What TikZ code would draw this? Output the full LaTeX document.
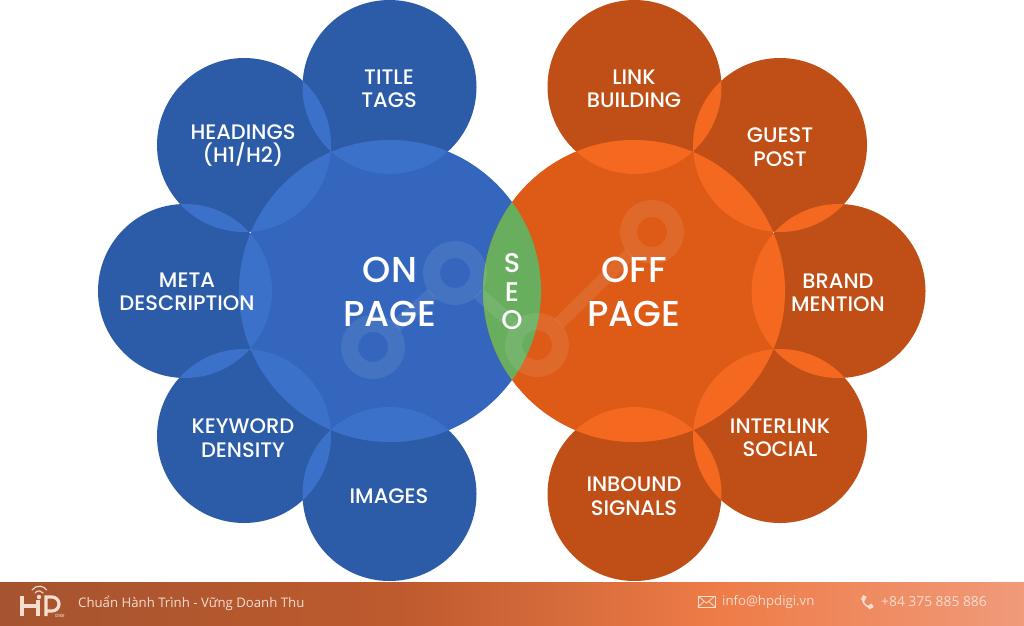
\documentclass[tikz,border=0pt]{standalone}
\usepackage{fontspec}
\setmainfont{Poppins Medium}
\newfontfamily\footfont{Open Sans}
\usetikzlibrary{calc}
\definecolor{bluesm}{HTML}{2C5CA8}
\definecolor{bluebig}{HTML}{3366BC}
\definecolor{bluelap}{HTML}{3C71CA}
\definecolor{orsm}{HTML}{BF4F16}
\definecolor{orbig}{HTML}{DD5A17}
\definecolor{orlap}{HTML}{F4681F}
\definecolor{seogreen}{HTML}{69AE5F}
\definecolor{barA}{HTML}{A5542F}
\definecolor{barB}{HTML}{BE5A2E}
\definecolor{barC}{HTML}{EE7C48}
\definecolor{barD}{HTML}{F09A7A}
\definecolor{foot}{HTML}{F6DDCF}
\tikzset{
  x=1pt,y=-1pt,
  lbl/.style={text=white,font=\fontsize{21}{23.5}\selectfont,align=center,inner sep=0pt},
  biglbl/.style={text=white,font=\fontsize{36}{44}\selectfont,align=center,inner sep=0pt},
  ftxt/.style={text=foot,font=\footfont\fontsize{13.2}{15}\selectfont,anchor=west,inner sep=0pt},
  ring/.style={draw=white,draw opacity=.085,line width=17pt,fill=none},
  link/.style={draw=white,draw opacity=.085,line width=13pt,shorten >=31pt,shorten <=31pt},
}
\newcommand{\smrad}{87}
\newcommand{\bigrad}{151}
\begin{document}
\begin{tikzpicture}
\useasboundingbox (0,0) rectangle (1024,625);
\fill[white] (0,0) rectangle (1024,625);
% small circles
\foreach \c in {(389.5,87),(244,145),(185,291),(244,436),(389.5,494)} \fill[bluesm] \c circle (\smrad);
\foreach \c in {(634.5,87),(780,145),(838.5,291),(780,436),(634.5,494)} \fill[orsm] \c circle (\smrad);
% overlaps of neighbouring small circles
\foreach \a/\b in {{(389.5,87)}/{(244,145)},{(244,145)}/{(185,291)},{(185,291)}/{(244,436)},{(244,436)}/{(389.5,494)}} {
  \begin{scope}\clip \a circle (\smrad); \fill[bluelap] \b circle (\smrad); \end{scope}}
\foreach \a/\b in {{(634.5,87)}/{(780,145)},{(780,145)}/{(838.5,291)},{(838.5,291)}/{(780,436)},{(780,436)}/{(634.5,494)}} {
  \begin{scope}\clip \a circle (\smrad); \fill[orlap] \b circle (\smrad); \end{scope}}
% big circles
\fill[bluebig] (390,291) circle (\bigrad);
\fill[orbig] (634,291) circle (\bigrad);
% overlaps
\foreach \c in {(389.5,87),(244,145),(185,291),(244,436),(389.5,494)} {
  \begin{scope}\clip (390,291) circle (\bigrad); \fill[bluelap] \c circle (\smrad); \end{scope}}
\foreach \c in {(634.5,87),(780,145),(838.5,291),(780,436),(634.5,494)} {
  \begin{scope}\clip (634,291) circle (\bigrad); \fill[orlap] \c circle (\smrad); \end{scope}}
% SEO lens
\begin{scope}\clip (390,291) circle (\bigrad); \fill[seogreen] (634,291) circle (\bigrad); \end{scope}
% watermark
\coordinate (w1) at (373,347);
\coordinate (w2) at (455,273);
\coordinate (w3) at (537,345);
\coordinate (w4) at (652,232);
\foreach \c in {w1,w2,w3,w4} \draw[ring] (\c) circle (23.5);
\draw[link] (w1) -- (w2);
\draw[link] (w2) -- (w3);
\draw[link] (w3) -- (w4);
% labels
\node[lbl] (title) at (389,89) {TITLE\\TAGS};
\node[lbl] (head) at (243,145.5) {HEADINGS\\(H1/H2)};
\node[lbl] (meta) at (187,292) {META\\DESCRIPTION};
\node[lbl] (kw) at (243,438) {KEYWORD\\DENSITY};
\node[lbl] (img) at (389,496) {IMAGES};
\node[lbl] (linkb) at (634,89) {LINK\\BUILDING};
\node[lbl] (guest) at (780,147) {GUEST\\POST};
\node[lbl] (brand) at (838,293) {BRAND\\MENTION};
\node[lbl] (inter) at (780,438) {INTERLINK\\SOCIAL};
\node[lbl] (inb) at (634,496) {INBOUND\\SIGNALS};
\node[biglbl] (on) at (390,292) {ON\\PAGE};
\node[biglbl] (off) at (634,292) {OFF\\PAGE};
\node[text=white,font=\fontsize{27}{28.5}\selectfont,align=center,inner sep=0pt] (seo) at (512,292) {S\\E\\O};
% footer bar
\shade[left color=barA,right color=barB] (0,582) rectangle (400,625);
\shade[left color=barB,right color=barC] (400,582) rectangle (720,625);
\shade[left color=barC,right color=barD] (720,582) rectangle (1024,625);
% logo
\draw[foot,line width=3.2pt] (22,596) -- (22,616) (22,606) -- (38,606) (38,600) -- (38,616);
\draw[foot,line width=3.2pt] (46,616) -- (46,597) -- (52,597) arc[start angle=-90,end angle=90,radius=7] -- (46,611);
\node[text=foot,font=\fontsize{4.5}{5}\selectfont,inner sep=0pt] (digi) at (60,615.5) {DIGI};
\fill[foot] (39,597) circle (2.2);
\draw[foot,line width=1.1pt,line cap=round] (32,590) arc[start angle=215,end angle=325,radius=9];
\draw[foot,line width=1.1pt,line cap=round] (35,593) arc[start angle=215,end angle=325,radius=5];
\node[ftxt] (slogan) at (78,603) {Chuẩn Hành Trình - Vững Doanh Thu};
% mail
\draw[foot,line width=.8pt] (698,596) rectangle (715,607);
\draw[foot,line width=.8pt] (698,596) -- (706.5,603) -- (715,596);
\draw[foot,line width=.8pt] (698,607) -- (704,601.5);
\draw[foot,line width=.8pt] (715,607) -- (709,601.5);
\node[ftxt] (mail) at (722,602) {info@hpdigi.vn};
% phone
\draw[foot,line width=1.6pt,line cap=round] (862.5,598) .. controls (862.5,603) and (866,607) .. (871,607.5);
\fill[foot,rotate around={-30:(863.5,598.5)}] (861.5,595.5) rectangle (865.5,600.5);
\fill[foot,rotate around={-60:(870.5,606.5)}] (868.5,604) rectangle (872.5,609);
\node[ftxt,font=\footfont\fontsize{13.8}{15}\selectfont] (phone) at (881,602) {+84 375 885 886};
\end{tikzpicture}
\end{document}
